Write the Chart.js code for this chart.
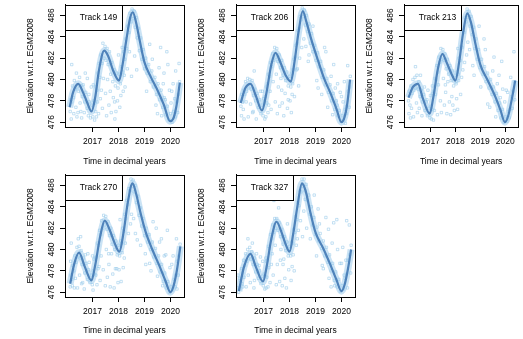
<!DOCTYPE html>
<html><head><meta charset="utf-8">
<script src="https://cdn.jsdelivr.net/npm/chart.js@4.4.1/dist/chart.umd.min.js"></script>
<style>
html,body{margin:0;padding:0;background:#fff;overflow:hidden}
#wrap{position:relative;width:523px;height:339px;background:#fff}
canvas{position:absolute}
</style></head><body>
<div id="wrap"></div>
<script>
// ---------- data ----------
const xTicks = [2017, 2018, 2019, 2020];
const yTicks = [476, 478, 480, 482, 484, 486];
const xRange = [2015.94, 2020.52];
const yRange = [475.55, 487.0];
const trackNames = ['Track 149', 'Track 206', 'Track 213', 'Track 270', 'Track 327'];
const xTitle = 'Time in decimal years';
const yTitle = 'Elevation w.r.t. EGM2008';

const fit149 = [[2016.12,477.4],[2016.25,478.8],[2016.45,479.6],[2016.65,478.7],[2016.8,477.8],[2016.96,477.0],[2017.1,478.3],[2017.25,480.9],[2017.45,482.7],[2017.6,482.2],[2017.8,480.8],[2018.02,479.9],[2018.15,481.3],[2018.3,483.7],[2018.45,485.8],[2018.55,486.3],[2018.68,485.3],[2018.82,483.6],[2019.0,481.6],[2019.25,480.2],[2019.5,479.0],[2019.75,477.6],[2019.98,476.1],[2020.1,476.3],[2020.22,477.4],[2020.36,479.7]];
const fit206 = [[2016.12,477.8],[2016.3,479.2],[2016.5,479.6],[2016.7,478.5],[2016.94,477.1],[2017.1,478.6],[2017.3,481.4],[2017.46,482.5],[2017.65,481.6],[2017.85,480.4],[2018.05,479.8],[2018.2,481.8],[2018.35,484.5],[2018.51,486.4],[2018.65,485.4],[2018.82,483.9],[2019.08,481.9],[2019.33,480.1],[2019.58,478.7],[2019.8,477.3],[2020.0,476.0],[2020.12,476.5],[2020.22,477.7],[2020.33,480.0]];
const fit213 = [[2016.12,478.3],[2016.3,479.3],[2016.5,479.6],[2016.7,478.2],[2016.97,476.8],[2017.12,478.4],[2017.3,481.0],[2017.48,482.4],[2017.65,481.6],[2017.85,480.5],[2018.0,479.9],[2018.15,481.6],[2018.3,484.2],[2018.48,486.2],[2018.62,485.4],[2018.8,483.4],[2019.0,481.4],[2019.3,479.9],[2019.6,478.4],[2019.8,477.2],[2019.99,476.0],[2020.12,476.6],[2020.25,478.0],[2020.4,479.9]];
const fit270 = [[2016.14,476.8],[2016.3,478.7],[2016.48,479.7],[2016.7,478.4],[2016.96,477.1],[2017.1,478.5],[2017.3,481.3],[2017.47,482.7],[2017.65,481.9],[2017.85,480.6],[2018.03,479.8],[2018.2,481.7],[2018.35,484.3],[2018.54,486.2],[2018.68,485.2],[2018.85,483.4],[2019.05,481.6],[2019.3,480.0],[2019.55,478.6],[2019.8,477.1],[2020.0,476.0],[2020.12,476.6],[2020.25,478.1],[2020.38,480.3]];
const fit327 = [[2016.05,476.1],[2016.25,478.4],[2016.5,479.6],[2016.7,478.4],[2016.98,477.0],[2017.12,478.4],[2017.3,481.0],[2017.5,482.6],[2017.68,481.7],[2017.85,480.5],[2018.0,479.8],[2018.15,481.6],[2018.3,484.0],[2018.48,486.2],[2018.62,485.5],[2018.8,483.5],[2019.0,481.6],[2019.3,480.1],[2019.55,478.7],[2019.8,477.2],[2020.0,476.1],[2020.12,476.7],[2020.25,478.2],[2020.37,480.0]];

const obs149 = [[2016.14,477.0],[2016.16,478.1],[2016.2,477.9],[2016.23,479.4],[2016.27,478.3],[2016.3,479.9],[2016.34,479.1],[2016.38,480.6],[2016.41,479.3],[2016.46,478.9],[2016.5,480.2],[2016.55,479.4],[2016.6,478.4],[2016.64,479.5],[2016.7,477.9],[2016.74,478.8],[2016.79,477.3],[2016.84,476.6],[2016.88,477.9],[2016.92,476.4],[2016.97,477.6],[2017.01,476.5],[2017.05,478.0],[2017.09,477.8],[2017.13,479.3],[2017.17,479.0],[2017.21,480.6],[2017.25,481.5],[2017.28,480.2],[2017.32,482.3],[2017.36,481.5],[2017.4,483.4],[2017.44,482.0],[2017.48,483.1],[2017.52,481.8],[2017.56,482.9],[2017.6,481.4],[2017.65,482.6],[2017.7,480.5],[2017.74,481.6],[2017.78,479.8],[2017.83,480.9],[2017.88,479.4],[2017.93,480.6],[2017.98,479.2],[2018.03,480.5],[2018.07,479.6],[2018.11,481.2],[2018.16,480.7],[2018.2,482.6],[2018.24,481.9],[2018.28,483.8],[2018.32,482.9],[2018.36,485.0],[2018.4,484.4],[2018.44,486.2],[2018.48,485.4],[2018.52,486.6],[2018.56,485.7],[2018.6,486.4],[2018.64,484.9],[2018.68,485.8],[2018.72,483.9],[2018.76,484.8],[2018.8,482.7],[2018.85,483.9],[2018.9,481.9],[2018.95,482.8],[2019.0,481.0],[2019.05,482.0],[2019.1,480.6],[2019.16,481.4],[2019.22,479.8],[2019.28,480.8],[2019.34,479.3],[2019.4,480.2],[2019.46,478.6],[2019.52,479.6],[2019.58,478.1],[2019.64,479.0],[2019.7,477.4],[2019.76,478.3],[2019.82,476.7],[2019.88,477.5],[2019.94,476.2],[2020.0,476.8],[2020.06,476.0],[2020.12,477.0],[2020.18,476.5],[2020.24,477.9],[2020.3,478.6],[2020.35,479.8],[2016.2,481.4],[2016.55,477.0],[2016.8,480.1],[2016.95,479.3],[2017.15,476.5],[2017.3,478.2],[2017.6,484.7],[2017.85,477.9],[2018.0,482.3],[2018.25,479.3],[2018.7,480.9],[2019.2,483.3],[2019.5,476.8],[2019.62,483.0],[2019.75,480.6],[2019.9,481.4],[2020.05,478.9],[2020.2,480.8],[2017.9,477.0],[2016.4,476.5],
[2016.18,476.3],[2016.28,476.8],[2016.36,477.4],[2016.44,476.9],[2016.52,477.8],[2016.58,476.4],[2016.68,476.9],[2016.72,480.6],[2016.86,478.6],[2017.03,479.5],[2017.08,476.2],[2017.12,477.0],[2017.19,477.9],[2017.23,476.8],[2017.34,479.0],[2017.38,477.3],[2017.42,480.1],[2017.5,478.7],[2017.54,476.6],[2017.58,480.0],[2017.63,477.6],[2017.68,478.9],[2017.72,476.9],[2017.8,478.3],[2017.86,476.3],[2017.96,478.0],[2018.05,477.4],[2018.09,478.5],[2018.14,483.0],[2018.18,478.9],[2018.22,480.4],[2018.34,481.0],[2018.42,482.6],[2018.5,480.3],[2018.62,482.2],[2019.08,478.9],[2019.3,481.9],[2019.44,477.6],[2019.56,481.1],[2019.66,476.6],[2019.72,479.6],[2019.8,478.1],[2019.86,482.6],[2019.96,479.0],[2020.02,477.8],[2020.1,479.6],[2020.16,478.2],[2020.28,476.9],[2020.33,481.5]];
const obs206 = [[2016.13,477.5],[2016.16,478.6],[2016.19,477.9],[2016.23,479.0],[2016.27,478.6],[2016.31,479.8],[2016.35,478.9],[2016.39,480.1],[2016.43,479.2],[2016.47,480.0],[2016.52,479.1],[2016.56,479.9],[2016.61,478.5],[2016.66,479.1],[2016.7,478.0],[2016.75,478.7],[2016.8,477.4],[2016.85,478.1],[2016.9,476.8],[2016.94,477.6],[2016.98,476.6],[2017.03,477.9],[2017.07,478.4],[2017.11,479.3],[2017.15,479.6],[2017.19,480.5],[2017.23,480.3],[2017.27,481.6],[2017.31,481.2],[2017.35,482.4],[2017.39,481.8],[2017.43,483.0],[2017.47,482.1],[2017.51,482.9],[2017.55,481.7],[2017.6,482.3],[2017.65,481.1],[2017.7,481.8],[2017.75,480.4],[2017.8,481.1],[2017.85,479.9],[2017.9,480.7],[2017.95,479.4],[2018.0,480.3],[2018.05,479.3],[2018.09,480.6],[2018.13,480.9],[2018.17,481.9],[2018.21,482.1],[2018.25,483.2],[2018.29,483.4],[2018.33,484.6],[2018.37,484.8],[2018.41,485.9],[2018.45,485.6],[2018.49,486.7],[2018.53,485.9],[2018.57,486.5],[2018.61,485.1],[2018.65,486.0],[2018.7,484.5],[2018.75,485.2],[2018.8,483.4],[2018.85,484.3],[2018.9,482.6],[2018.96,483.2],[2019.02,481.8],[2019.08,482.5],[2019.14,481.2],[2019.2,481.7],[2019.26,480.2],[2019.32,480.9],[2019.38,479.5],[2019.44,480.1],[2019.5,478.8],[2019.56,479.5],[2019.62,478.0],[2019.68,478.7],[2019.74,477.2],[2019.8,478.0],[2019.86,476.6],[2019.92,477.1],[2019.97,476.1],[2020.03,476.6],[2020.08,476.2],[2020.14,477.2],[2020.2,477.5],[2020.26,478.9],[2020.31,479.3],[2020.34,480.3],[2016.25,476.3],[2016.6,477.0],[2016.95,478.9],[2017.2,477.6],[2017.4,485.1],[2017.7,479.0],[2017.95,478.1],[2018.1,478.6],[2018.3,481.0],[2018.55,483.8],[2018.75,482.3],[2018.9,485.0],[2019.1,479.2],[2019.4,482.6],[2019.7,481.4],[2019.85,479.6],[2020.0,478.4],[2020.15,475.9],[2017.05,476.3],[2018.35,479.4],
[2016.15,476.6],[2016.22,477.2],[2016.33,477.9],[2016.41,476.5],[2016.5,477.7],[2016.58,476.9],[2016.64,480.8],[2016.72,476.3],[2016.88,478.9],[2017.0,478.2],[2017.09,476.5],[2017.13,477.8],[2017.17,476.9],[2017.25,478.9],[2017.29,477.2],[2017.37,479.8],[2017.45,477.9],[2017.49,480.5],[2017.53,476.8],[2017.57,479.3],[2017.62,477.5],[2017.67,480.1],[2017.72,477.8],[2017.78,476.6],[2017.83,478.7],[2017.92,477.3],[2018.02,478.0],[2018.07,476.9],[2018.12,479.6],[2018.19,478.4],[2018.27,480.9],[2018.39,482.0],[2018.47,483.0],[2018.63,483.1],[2018.72,481.7],[2019.05,479.9],[2019.24,478.6],[2019.35,483.0],[2019.47,477.4],[2019.6,480.3],[2019.66,476.7],[2019.76,479.2],[2019.83,477.6],[2019.95,478.8],[2020.06,477.9],[2020.11,479.8],[2020.18,476.8],[2020.24,481.3],[2020.3,477.4]];
const obs213 = [[2016.12,478.0],[2016.15,478.9],[2016.18,477.6],[2016.22,479.4],[2016.26,478.7],[2016.3,480.0],[2016.34,479.0],[2016.38,480.2],[2016.42,479.2],[2016.46,480.4],[2016.5,479.1],[2016.54,479.8],[2016.58,478.4],[2016.63,479.0],[2016.68,477.9],[2016.73,478.6],[2016.78,477.1],[2016.83,477.9],[2016.88,476.6],[2016.93,477.3],[2016.98,476.4],[2017.02,477.5],[2017.06,477.2],[2017.1,478.7],[2017.14,478.9],[2017.18,480.1],[2017.22,480.0],[2017.26,481.3],[2017.3,480.7],[2017.34,482.1],[2017.38,481.6],[2017.42,482.9],[2017.46,481.9],[2017.5,482.8],[2017.54,481.8],[2017.58,482.4],[2017.63,481.0],[2017.68,481.9],[2017.73,480.5],[2017.78,481.3],[2017.83,479.9],[2017.88,480.8],[2017.93,479.4],[2017.98,480.4],[2018.03,479.6],[2018.07,480.7],[2018.11,480.5],[2018.15,482.0],[2018.19,481.8],[2018.23,483.1],[2018.27,483.0],[2018.31,484.6],[2018.35,484.4],[2018.39,485.8],[2018.43,485.4],[2018.47,486.6],[2018.51,485.8],[2018.55,486.4],[2018.59,485.0],[2018.63,485.9],[2018.68,484.2],[2018.73,484.9],[2018.78,482.9],[2018.83,483.8],[2018.88,481.9],[2018.93,482.8],[2018.99,481.1],[2019.05,481.9],[2019.11,480.5],[2019.17,481.2],[2019.23,479.8],[2019.29,480.6],[2019.35,479.2],[2019.41,480.0],[2019.47,478.6],[2019.53,479.3],[2019.59,477.9],[2019.65,478.7],[2019.71,477.1],[2019.77,477.8],[2019.83,476.4],[2019.89,477.2],[2019.95,476.0],[2020.01,476.5],[2020.07,476.1],[2020.13,477.0],[2020.19,477.2],[2020.25,478.4],[2020.31,478.9],[2020.37,479.8],[2016.2,476.4],[2016.4,481.2],[2016.55,477.3],[2016.9,479.0],[2017.12,476.2],[2017.35,484.9],[2017.6,479.5],[2017.9,477.6],[2018.1,482.9],[2018.3,480.9],[2018.5,483.5],[2018.7,481.3],[2018.95,485.0],[2019.15,483.8],[2019.3,477.7],[2019.55,482.1],[2019.75,480.4],[2019.9,479.1],[2020.1,478.8],[2020.35,482.6],
[2016.14,476.8],[2016.24,477.3],[2016.32,476.5],[2016.44,477.8],[2016.48,476.9],[2016.6,480.4],[2016.66,476.6],[2016.76,479.3],[2016.86,478.1],[2017.0,478.5],[2017.04,476.3],[2017.08,479.4],[2017.16,477.1],[2017.2,478.6],[2017.28,476.7],[2017.32,479.5],[2017.4,478.0],[2017.44,476.9],[2017.52,480.1],[2017.56,477.6],[2017.61,478.8],[2017.66,476.8],[2017.7,479.8],[2017.76,477.9],[2017.81,476.7],[2017.86,478.4],[2017.96,477.1],[2018.05,478.2],[2018.09,477.2],[2018.13,479.9],[2018.21,478.6],[2018.25,480.2],[2018.37,481.6],[2018.45,482.3],[2018.57,482.8],[2018.75,480.4],[2019.02,479.3],[2019.2,482.8],[2019.38,477.4],[2019.5,480.8],[2019.62,476.5],[2019.68,479.6],[2019.8,478.3],[2019.86,481.7],[2019.98,477.9],[2020.04,479.0],[2020.16,476.4],[2020.22,480.2],[2020.28,477.3],[2020.38,478.1]];
const obs270 = [[2016.14,476.5],[2016.17,477.6],[2016.2,477.2],[2016.24,478.5],[2016.28,478.0],[2016.32,479.4],[2016.36,478.8],[2016.4,480.2],[2016.44,479.3],[2016.48,480.3],[2016.52,479.2],[2016.56,479.9],[2016.6,478.6],[2016.65,479.2],[2016.7,477.8],[2016.75,478.7],[2016.8,477.2],[2016.85,478.1],[2016.9,476.9],[2016.95,477.6],[2016.99,476.7],[2017.03,478.0],[2017.07,477.7],[2017.11,479.2],[2017.15,479.3],[2017.19,480.6],[2017.23,480.4],[2017.27,481.8],[2017.31,481.4],[2017.35,482.7],[2017.39,482.0],[2017.43,483.2],[2017.47,482.3],[2017.51,483.1],[2017.55,481.9],[2017.6,482.6],[2017.65,481.3],[2017.7,482.0],[2017.75,480.5],[2017.8,481.3],[2017.85,480.0],[2017.9,480.8],[2017.95,479.5],[2018.0,480.4],[2018.04,479.4],[2018.08,480.8],[2018.12,480.6],[2018.16,482.0],[2018.2,481.7],[2018.24,483.3],[2018.28,482.9],[2018.32,484.6],[2018.36,484.2],[2018.4,485.7],[2018.44,485.5],[2018.48,486.6],[2018.52,485.9],[2018.56,486.5],[2018.6,485.4],[2018.64,486.0],[2018.69,484.4],[2018.74,485.0],[2018.79,483.2],[2018.84,483.9],[2018.89,482.2],[2018.94,482.9],[2019.0,481.3],[2019.06,482.0],[2019.12,480.7],[2019.18,481.4],[2019.24,480.0],[2019.3,480.7],[2019.36,479.3],[2019.42,480.1],[2019.48,478.7],[2019.54,479.4],[2019.6,477.9],[2019.66,478.6],[2019.72,477.0],[2019.78,477.8],[2019.84,476.4],[2019.9,477.0],[2019.96,476.0],[2020.02,476.5],[2020.08,476.2],[2020.14,477.2],[2020.2,477.6],[2020.26,478.9],[2020.32,479.4],[2020.37,480.5],[2016.18,480.6],[2016.3,476.4],[2016.45,481.0],[2016.62,476.9],[2016.82,479.6],[2017.0,479.4],[2017.25,478.4],[2017.45,485.0],[2017.62,479.6],[2017.88,478.2],[2018.06,482.8],[2018.22,479.2],[2018.5,483.3],[2018.65,481.5],[2018.85,480.4],[2019.05,478.6],[2019.25,478.0],[2019.45,482.0],[2019.65,481.0],[2019.82,479.5],[2020.05,478.6],[2020.25,476.3],
[2016.16,478.9],[2016.22,476.6],[2016.34,477.3],[2016.42,476.4],[2016.5,477.6],[2016.54,481.2],[2016.58,476.8],[2016.68,476.3],[2016.72,479.5],[2016.87,478.8],[2017.02,476.2],[2017.05,479.1],[2017.13,477.6],[2017.17,476.7],[2017.21,478.2],[2017.29,477.1],[2017.33,479.4],[2017.41,478.1],[2017.49,476.6],[2017.53,480.0],[2017.57,477.4],[2017.63,478.6],[2017.68,476.5],[2017.73,479.6],[2017.78,477.7],[2017.83,476.4],[2017.93,478.2],[2017.98,476.9],[2018.02,478.1],[2018.1,477.0],[2018.14,479.7],[2018.18,478.3],[2018.26,480.6],[2018.38,481.5],[2018.46,482.4],[2018.58,482.9],[2018.72,480.9],[2019.03,479.6],[2019.2,478.7],[2019.33,482.6],[2019.5,477.5],[2019.58,480.7],[2019.7,476.6],[2019.76,479.4],[2019.88,481.8],[2019.98,478.3],[2020.1,479.4],[2020.18,476.5],[2020.23,481.0],[2020.3,477.6]];
const obs327 = [[2016.0,476.4],[2016.04,476.0],[2016.07,477.3],[2016.11,477.1],[2016.15,478.2],[2016.19,477.8],[2016.23,479.0],[2016.27,478.5],[2016.31,479.6],[2016.35,478.9],[2016.39,480.0],[2016.43,479.2],[2016.47,480.2],[2016.51,479.1],[2016.55,479.8],[2016.6,478.6],[2016.65,479.2],[2016.7,477.9],[2016.75,478.6],[2016.8,477.3],[2016.85,478.0],[2016.9,476.8],[2016.95,477.5],[2016.99,476.6],[2017.03,477.7],[2017.07,477.5],[2017.11,478.9],[2017.15,479.0],[2017.19,480.3],[2017.23,480.1],[2017.27,481.4],[2017.31,481.0],[2017.35,482.3],[2017.39,481.6],[2017.43,482.9],[2017.47,482.0],[2017.51,482.9],[2017.55,481.8],[2017.6,482.5],[2017.65,481.2],[2017.7,481.9],[2017.75,480.5],[2017.8,481.2],[2017.85,479.9],[2017.9,480.7],[2017.95,479.4],[2018.0,480.3],[2018.04,479.4],[2018.08,480.7],[2018.12,480.6],[2018.16,481.9],[2018.2,481.6],[2018.24,483.1],[2018.28,482.8],[2018.32,484.4],[2018.36,484.1],[2018.4,485.5],[2018.44,485.4],[2018.48,486.6],[2018.52,485.9],[2018.56,486.6],[2018.6,485.5],[2018.64,486.1],[2018.69,484.6],[2018.74,485.1],[2018.79,483.3],[2018.84,484.0],[2018.89,482.3],[2018.94,483.0],[2019.0,481.4],[2019.06,482.1],[2019.12,480.8],[2019.18,481.5],[2019.24,480.1],[2019.3,480.8],[2019.36,479.4],[2019.42,480.2],[2019.48,478.8],[2019.54,479.5],[2019.6,478.0],[2019.66,478.7],[2019.72,477.1],[2019.78,477.9],[2019.84,476.5],[2019.9,477.2],[2019.96,476.1],[2020.02,476.6],[2020.08,476.3],[2020.14,477.3],[2020.2,477.7],[2020.26,479.0],[2020.32,479.5],[2020.37,480.4],[2016.2,476.5],[2016.4,481.0],[2016.65,477.1],[2016.88,479.3],[2017.1,476.4],[2017.3,478.6],[2017.4,484.6],[2017.58,483.9],[2017.75,478.6],[2017.92,482.4],[2018.1,478.4],[2018.3,481.0],[2018.55,483.6],[2018.6,484.7],[2018.8,481.0],[2018.95,485.1],[2019.1,483.8],[2019.3,478.2],[2019.5,481.9],[2019.7,482.5],[2019.85,480.0],[2020.0,478.7],[2020.2,482.7],[2017.65,479.0],[2019.6,476.5],
[2016.02,477.6],[2016.09,476.3],[2016.17,476.8],[2016.25,477.4],[2016.33,476.5],[2016.41,477.6],[2016.49,476.9],[2016.57,480.6],[2016.63,476.4],[2016.73,479.6],[2016.83,478.5],[2016.97,478.9],[2017.05,476.3],[2017.09,479.2],[2017.13,477.4],[2017.17,476.5],[2017.21,478.3],[2017.25,476.9],[2017.33,479.6],[2017.37,477.6],[2017.45,480.4],[2017.49,476.7],[2017.53,478.6],[2017.62,477.0],[2017.67,480.0],[2017.72,476.6],[2017.78,479.1],[2017.82,477.3],[2017.88,476.4],[2017.97,478.1],[2018.06,477.1],[2018.14,479.5],[2018.18,478.0],[2018.26,480.4],[2018.34,481.8],[2018.42,482.7],[2018.5,481.2],[2018.66,482.0],[2019.04,479.4],[2019.15,482.4],[2019.26,478.5],[2019.4,483.0],[2019.52,477.3],[2019.64,480.6],[2019.74,476.6],[2019.82,482.8],[2019.94,478.7],[2020.05,480.2],[2020.1,477.6],[2020.17,479.0],[2020.23,476.4],[2020.3,482.3],[2020.35,477.8]];

const fits = [fit149, fit206, fit213, fit270, fit327];
const obss = [obs149, obs206, obs213, obs270, obs327];

// ---------- layout (canvas placement) ----------
const panels = [
  {left: 0,   top: 0,   w: 190, h: 170, boxW: 119},
  {left: 171, top: 0,   w: 190, h: 170, boxW: 119},
  {left: 339, top: 0,   w: 184, h: 170, boxW: 117},
  {left: 0,   top: 170, w: 190, h: 169, boxW: 119},
  {left: 171, top: 170, w: 190, h: 169, boxW: 119}
];
const AXIS_W = 65, PAD_TOP = 3, BOX_H = 124;
const FONT = '"Liberation Sans", Arial, Helvetica, sans-serif';
const FS = 8.5;

Chart.defaults.font.family = FONT;
Chart.defaults.font.size = FS;
Chart.defaults.color = '#000';

const framePlugin = {
  id: 'panelFrame',
  afterDatasetsDraw(chart, args, opts) {
    const {ctx, chartArea: a} = chart;
    ctx.save();
    ctx.strokeStyle = '#000';
    ctx.lineWidth = 1;
    const L = Math.round(a.left) + 0.5, T = Math.round(a.top) + 0.5;
    ctx.strokeRect(L, T, Math.round(a.right - a.left), Math.round(a.bottom - a.top));
    const w = 57, h = 25;
    ctx.fillStyle = '#fff';
    ctx.fillRect(L, T, w, h);
    ctx.strokeRect(L, T, w, h);
    ctx.fillStyle = '#000';
    ctx.font = FS + 'px ' + FONT;
    ctx.textAlign = 'center';
    ctx.textBaseline = 'middle';
    ctx.fillText(opts.label, L + 33, T + 12.5);
    ctx.restore();
  }
};

const wrap = document.getElementById('wrap');
panels.forEach((p, i) => {
  const cv = document.createElement('canvas');
  cv.width = p.w; cv.height = p.h;
  cv.style.left = p.left + 'px'; cv.style.top = p.top + 'px';
  cv.style.width = p.w + 'px'; cv.style.height = p.h + 'px';
  wrap.appendChild(cv);
  const xAxisH = p.h - PAD_TOP - BOX_H;
  new Chart(cv, {
    type: 'scatter',
    data: {
      datasets: [
        {
          data: fits[i].map(d => ({x: d[0], y: d[1]})),
          showLine: true, borderColor: 'rgb(78,130,186)', borderWidth: 2.2,
          pointRadius: 0, cubicInterpolationMode: 'monotone', fill: false
        },
        {
          data: fits[i].map(d => ({x: d[0], y: d[1]})),
          showLine: true, borderColor: 'rgba(150,200,235,0.5)', borderWidth: 7,
          pointRadius: 0, cubicInterpolationMode: 'monotone', fill: false
        },
        {
          data: obss[i].map(d => ({x: d[0], y: d[1]})),
          showLine: false, pointStyle: 'rect', pointRadius: 1.7,
          borderWidth: 0.8, borderColor: 'rgba(150,202,234,0.7)',
          backgroundColor: 'rgba(0,0,0,0)'
        }
      ]
    },
    options: {
      responsive: false, animation: false, devicePixelRatio: 1,
      events: [],
      layout: {padding: {left: 0, top: PAD_TOP, right: p.w - AXIS_W - p.boxW, bottom: 0}},
      plugins: {legend: {display: false}, tooltip: {enabled: false}, panelFrame: {label: trackNames[i]}},
      scales: {
        x: {
          type: 'linear', min: xRange[0], max: xRange[1],
          afterBuildTicks: s => { s.ticks = xTicks.map(v => ({value: v})); },
          afterFit: s => { s.height = xAxisH; s.paddingLeft = 0; s.paddingRight = 0; },
          ticks: {callback: v => String(v), padding: 5, maxRotation: 0, minRotation: 0, color: '#000'},
          grid: {display: true, drawOnChartArea: false, drawTicks: true, tickLength: 5, color: '#000', lineWidth: 1},
          border: {display: true, color: '#000', width: 1},
          title: {display: true, text: xTitle, color: '#000', padding: {top: 0, bottom: 3}}
        },
        y: {
          type: 'linear', min: yRange[0], max: yRange[1],
          afterBuildTicks: s => { s.ticks = yTicks.map(v => ({value: v})); },
          afterFit: s => { s.width = AXIS_W; s.paddingTop = 0; s.paddingBottom = 0; },
          ticks: {callback: v => String(v), padding: 1.5, minRotation: 90, maxRotation: 90, crossAlign: 'center', color: '#000'},
          grid: {display: true, drawOnChartArea: false, drawTicks: true, tickLength: 5, color: '#000', lineWidth: 1},
          border: {display: true, color: '#000', width: 1},
          title: {display: true, text: yTitle, color: '#000', padding: {top: 26, bottom: 0}}
        }
      }
    },
    plugins: [framePlugin]
  });
});
</script>
</body></html>
